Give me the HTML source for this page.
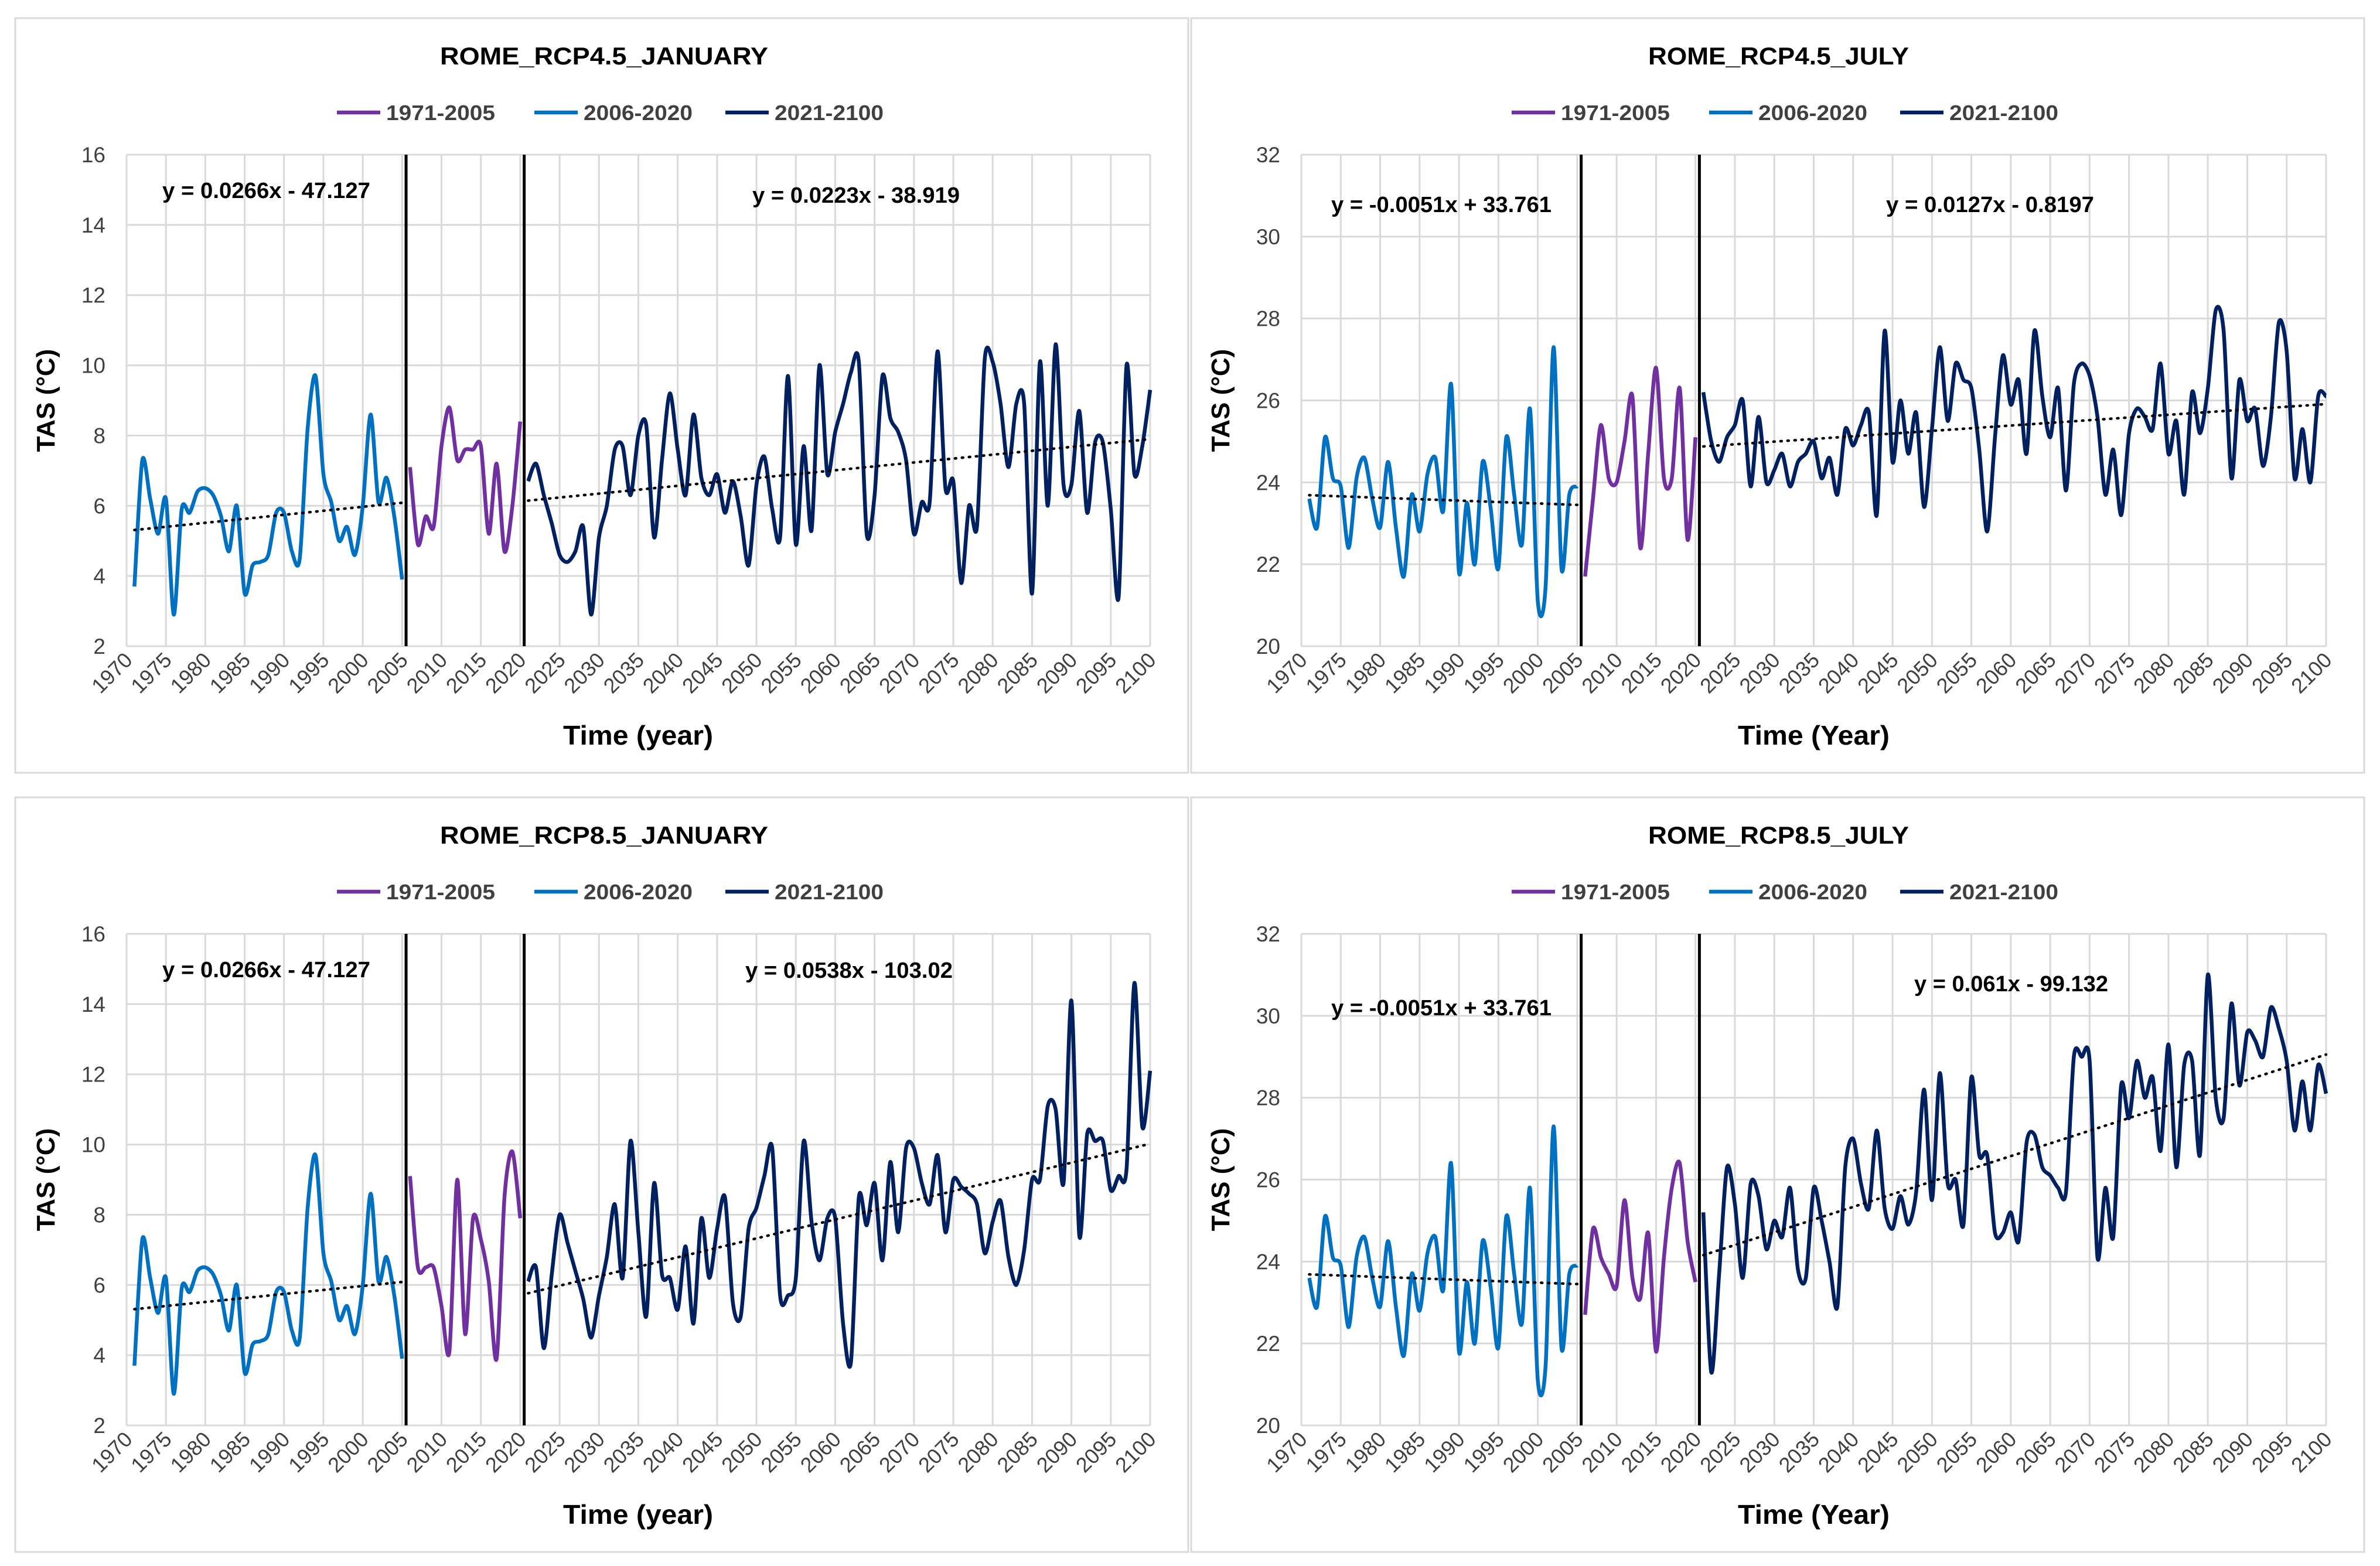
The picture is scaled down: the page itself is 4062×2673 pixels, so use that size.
<!DOCTYPE html>
<html><head><meta charset="utf-8"><style>html,body{margin:0;padding:0;background:#fff}svg{display:block}text{font-family:"Liberation Sans",sans-serif}</style></head>
<body>
<svg id="chart" xmlns="http://www.w3.org/2000/svg" width="4062" height="2673" viewBox="0 0 4062 2673"></svg>
<script>
const xTickLabels = ['1970','1975','1980','1985','1990','1995','2000','2005','2010','2015','2020','2025','2030','2035','2040','2045','2050','2055','2060','2065','2070','2075','2080','2085','2090','2095','2100'];
const janTicks = [2,4,6,8,10,12,14,16];
const julTicks = [20,22,24,26,28,30,32];
const legendLabels = ['1971-2005','2006-2020','2021-2100'];
const janHist = [3.7,7.3,6.2,5.2,6.2,2.9,5.9,5.8,6.4,6.5,6.3,5.7,4.7,6.0,3.5,4.3,4.4,4.6,5.8,5.8,4.7,4.5,8.2,9.7,6.9,6.1,5.0,5.4,4.6,6.0,8.6,6.1,6.8,5.7,3.9];
const julHist = [23.6,22.9,25.1,24.1,23.9,22.4,24.1,24.6,23.6,22.9,24.5,22.9,21.7,23.7,22.8,24.2,24.6,23.3,26.4,21.8,23.5,22.0,24.5,23.4,21.9,25.1,23.7,22.5,25.8,21.1,21.5,27.3,21.9,23.7,23.9];
const janRcp45Mid = [7.1,4.9,5.7,5.4,7.7,8.8,7.3,7.6,7.6,7.7,5.2,7.2,4.7,6.0,8.4];
const janRcp85Mid = [9.1,6.5,6.5,6.5,5.4,4.1,9.0,4.6,7.9,7.3,6.1,3.9,8.5,9.8,7.9];
const julRcp45Mid = [21.7,23.6,25.4,24.1,24.0,25.0,26.1,22.4,24.7,26.8,24.1,24.1,26.3,22.6,25.1];
const julRcp85Mid = [22.7,24.8,24.1,23.7,23.4,25.5,23.6,23.1,24.7,21.8,24.1,25.8,26.4,24.5,23.5];
const janRcp45Fut = [6.7,7.2,6.3,5.5,4.6,4.4,4.7,5.4,2.9,5.1,6.0,7.6,7.7,6.3,8.0,8.3,5.1,7.3,9.2,7.6,6.3,8.6,6.8,6.3,6.9,5.8,6.7,5.7,4.3,6.6,7.4,5.9,5.1,9.7,4.9,7.7,5.3,10.0,6.9,8.1,8.9,9.8,10.1,5.2,6.3,9.7,8.5,8.1,7.3,5.2,6.1,6.1,10.4,6.5,6.7,3.8,6.0,5.4,10.2,10.1,8.9,7.1,8.9,8.9,3.5,10.1,6.0,10.6,6.6,6.6,8.7,5.8,7.8,7.8,5.9,3.4,10.0,6.9,7.7,9.3];
const janRcp85Fut = [6.1,6.5,4.2,6.3,8.0,7.2,6.4,5.6,4.5,5.7,6.8,8.3,6.2,10.1,7.5,5.1,8.9,6.3,6.2,5.3,7.1,4.9,7.9,6.2,7.6,8.5,5.5,5.1,7.6,8.2,9.1,9.9,5.7,5.7,6.2,10.1,7.8,6.7,7.9,7.9,4.9,3.8,8.5,7.7,8.9,6.7,9.5,7.5,9.9,9.9,8.9,8.3,9.7,7.5,9.0,8.8,8.6,8.3,6.9,7.8,8.4,6.8,6.0,7.0,9.0,9.0,11.1,11.0,8.9,14.1,7.4,10.3,10.1,10.1,8.7,9.1,9.3,14.6,10.5,12.1];
const julRcp45Fut = [26.2,25.0,24.5,25.1,25.4,26.0,23.9,25.6,24.0,24.3,24.7,23.9,24.5,24.7,25.0,24.1,24.6,23.7,25.3,24.9,25.4,25.7,23.2,27.7,24.5,26.0,24.7,25.7,23.4,25.3,27.3,25.5,26.9,26.5,26.3,24.8,22.8,25.1,27.1,25.9,26.5,24.7,27.7,26.1,25.1,26.3,23.8,26.4,26.9,26.6,25.6,23.7,24.8,23.2,25.2,25.8,25.6,25.3,26.9,24.7,25.5,23.7,26.2,25.2,26.3,28.2,27.7,24.1,26.5,25.5,25.8,24.4,25.6,27.9,27.2,24.1,25.3,24.0,26.1,26.1];
const julRcp85Fut = [25.2,21.3,23.7,26.3,25.4,23.6,25.9,25.6,24.3,25.0,24.6,25.8,23.8,23.6,25.8,25.0,24.0,22.9,26.3,27.0,25.9,25.3,27.2,25.3,24.8,25.6,24.9,25.7,28.2,25.5,28.6,25.9,26.0,24.9,28.5,26.6,26.6,24.7,24.7,25.2,24.5,26.9,27.1,26.3,26.1,25.8,25.7,29.0,29.0,28.9,24.1,25.8,24.6,28.3,27.5,28.9,28.0,28.5,26.7,29.3,26.3,28.8,28.9,26.6,31.0,28.0,27.5,30.3,28.3,29.6,29.4,29.0,30.2,29.7,28.9,27.2,28.4,27.2,28.8,28.1];

const NS='http://www.w3.org/2000/svg';
const svg=document.getElementById('chart');
function mk(tag,attrs,parent,txt){const e=document.createElementNS(NS,tag);for(const k in attrs)e.setAttribute(k,attrs[k]);if(txt!==undefined)e.textContent=txt;(parent||svg).appendChild(e);return e;}
const C_BLUE='#0070C0',C_PURP='#7030A0',C_NAVY='#002060';

function smooth(pts){let d='M'+pts[0][0].toFixed(1)+','+pts[0][1].toFixed(1);
 for(let i=0;i<pts.length-1;i++){const p0=pts[Math.max(0,i-1)],p1=pts[i],p2=pts[i+1],p3=pts[Math.min(pts.length-1,i+2)];
  const t=0.14;const c1=[p1[0]+(p2[0]-p0[0])*t,p1[1]+(p2[1]-p0[1])*t],c2=[p2[0]-(p3[0]-p1[0])*t,p2[1]-(p3[1]-p1[1])*t];
  d+='C'+c1[0].toFixed(1)+','+c1[1].toFixed(1)+' '+c2[0].toFixed(1)+','+c2[1].toFixed(1)+' '+p2[0].toFixed(1)+','+p2[1].toFixed(1);}
 return d;}
function fit(vals,start){let n=vals.length,sx=0,sy=0,sxx=0,sxy=0;vals.forEach((v,i)=>{const x=start+i;sx+=x;sy+=v;sxx+=x*x;sxy+=x*v;});const m=(n*sxy-sx*sy)/(n*sxx-sx*sx);return [m,(sy-m*sx)/n];}

function panel(cfg){
 const g=mk('g',{});
 
 
 const box=mk('rect',{x:cfg.bx,y:cfg.by,width:2002,height:1288,fill:'#fff',stroke:'#d9d9d9','stroke-width':3},g);
 
 
 const L=cfg.L,W=cfg.W,T=cfg.T,B=cfg.B,ymin=cfg.ticks[0],ymax=cfg.ticks[cfg.ticks.length-1];
 const xs=yr=>L+(yr-1970)*W/130, ys=v=>B-(v-ymin)/(ymax-ymin)*(B-T);
 cfg.ticks.forEach(t=>{const l=mk('line',{x1:L,x2:L+W,y1:ys(t),y2:ys(t),stroke:'#d9d9d9','stroke-width':3},g);
  
  
  const tx=mk('text',{x:L-36,y:ys(t)+13,'text-anchor':'end','font-size':37,fill:'#404040'},g,String(t));
  
  });
 xTickLabels.forEach(lb=>{const x=xs(+lb);const l=mk('line',{x1:x,x2:x,y1:T,y2:B,stroke:'#d9d9d9','stroke-width':3},g);
  
  
  const tx=mk('text',{x:x+12,y:B+26,'text-anchor':'end','font-size':36,fill:'#404040',transform:'rotate(-45 '+(x+12)+' '+(B+26)+')'},g,lb);
  
  });
 [2005.5,2020.5].forEach(yr=>{const l=mk('line',{x1:xs(yr),x2:xs(yr),y1:T,y2:B,stroke:'#000','stroke-width':5},g);
  
  });
 const series=[[cfg.hist,1971,C_BLUE,'series-1971-2005',true],[cfg.mid,2006,C_PURP,'series-2006-2020',false],[cfg.fut,2021,C_NAVY,'series-2021-2100',true]];
 series.forEach(s=>{const pts=s[0].map((v,i)=>[xs(s[1]+i),ys(v)]);
  const p=mk('path',{d:smooth(pts),fill:'none',stroke:s[2],'stroke-width':6.5,'stroke-linejoin':'round'},g);
  
  
  if(s[4]){const f=fit(s[0],s[1]);const x0=s[1],x1=s[1]+s[0].length-1;
   const tl=mk('line',{x1:xs(x0),y1:ys(f[0]*x0+f[1]),x2:xs(x1),y2:ys(f[0]*x1+f[1]),stroke:'#000','stroke-width':4.5,'stroke-dasharray':'2 10','stroke-linecap':'round'},g);
   
   }});
 cfg.eqs.forEach(e=>{const t=mk('text',{x:e[0],y:e[1]+13,'font-size':38,'font-weight':'bold',fill:'#000',textLength:e[2],lengthAdjust:'spacingAndGlyphs'},g,e[3]);
  
  });
 const ti=mk('text',{x:cfg.tx,y:cfg.by+79,'font-size':42,'font-weight':'bold',fill:'#000',textLength:cfg.tw,lengthAdjust:'spacingAndGlyphs'},g,cfg.title);
 
 
 const lx=[cfg.lx,cfg.lx+337,cfg.lx+663],cols=[C_PURP,C_BLUE,C_NAVY];
 legendLabels.forEach((lb,i)=>{const le=mk('g',{},g);
  
  
  mk('line',{x1:lx[i],x2:lx[i]+74,y1:cfg.by+161,y2:cfg.by+161,stroke:cols[i],'stroke-width':6.5},le);
  mk('text',{x:lx[i]+84,y:cfg.by+174,'font-size':36,'font-weight':'bold',fill:'#404040',textLength:186,lengthAdjust:'spacingAndGlyphs'},le,lb);});
 const xt=mk('text',{x:cfg.xtx,y:cfg.by+1240,'font-size':46,'font-weight':'bold',fill:'#000',textLength:cfg.xtw,lengthAdjust:'spacingAndGlyphs'},g,cfg.xtitle);
 
 
 const yx=cfg.L-123,yy=(T+B)/2;
 const yt=mk('text',{x:yx,y:yy,'text-anchor':'middle','font-size':44,'font-weight':'bold',fill:'#000',transform:'rotate(-90 '+yx+' '+yy+')'},g,'TAS (°C)');
 
 
}
panel({name:'panel-rcp45-january',bx:26,by:31,L:216,W:1747,T:264,B:1103,ticks:janTicks,hist:janHist,mid:janRcp45Mid,fut:janRcp45Fut,title:'ROME_RCP4.5_JANUARY',tx:751,tw:560,lx:575,xtitle:'Time (year)',xtx:961,xtw:256,
 eqs:[[277,325,355,'y = 0.0266x - 47.127'],[1284,333,354,'y = 0.0223x - 38.919']]});
panel({name:'panel-rcp45-july',bx:2033,by:31,L:2221,W:1749,T:264,B:1103,ticks:julTicks,hist:julHist,mid:julRcp45Mid,fut:julRcp45Fut,title:'ROME_RCP4.5_JULY',tx:2813,tw:445,lx:2580,xtitle:'Time (Year)',xtx:2966,xtw:259,
 eqs:[[2272,349,376,'y = -0.0051x + 33.761'],[3219,349,355,'y = 0.0127x - 0.8197']]});
panel({name:'panel-rcp85-january',bx:26,by:1361,L:216,W:1747,T:1594,B:2433,ticks:janTicks,hist:janHist,mid:janRcp85Mid,fut:janRcp85Fut,title:'ROME_RCP8.5_JANUARY',tx:751,tw:560,lx:575,xtitle:'Time (year)',xtx:961,xtw:256,
 eqs:[[277,1655,355,'y = 0.0266x - 47.127'],[1272,1656,354,'y = 0.0538x - 103.02']]});
panel({name:'panel-rcp85-july',bx:2033,by:1361,L:2221,W:1749,T:1594,B:2433,ticks:julTicks,hist:julHist,mid:julRcp85Mid,fut:julRcp85Fut,title:'ROME_RCP8.5_JULY',tx:2813,tw:445,lx:2580,xtitle:'Time (Year)',xtx:2966,xtw:259,
 eqs:[[2272,1720,376,'y = -0.0051x + 33.761'],[3267,1679,331,'y = 0.061x - 99.132']]});
</script>
</body></html>
